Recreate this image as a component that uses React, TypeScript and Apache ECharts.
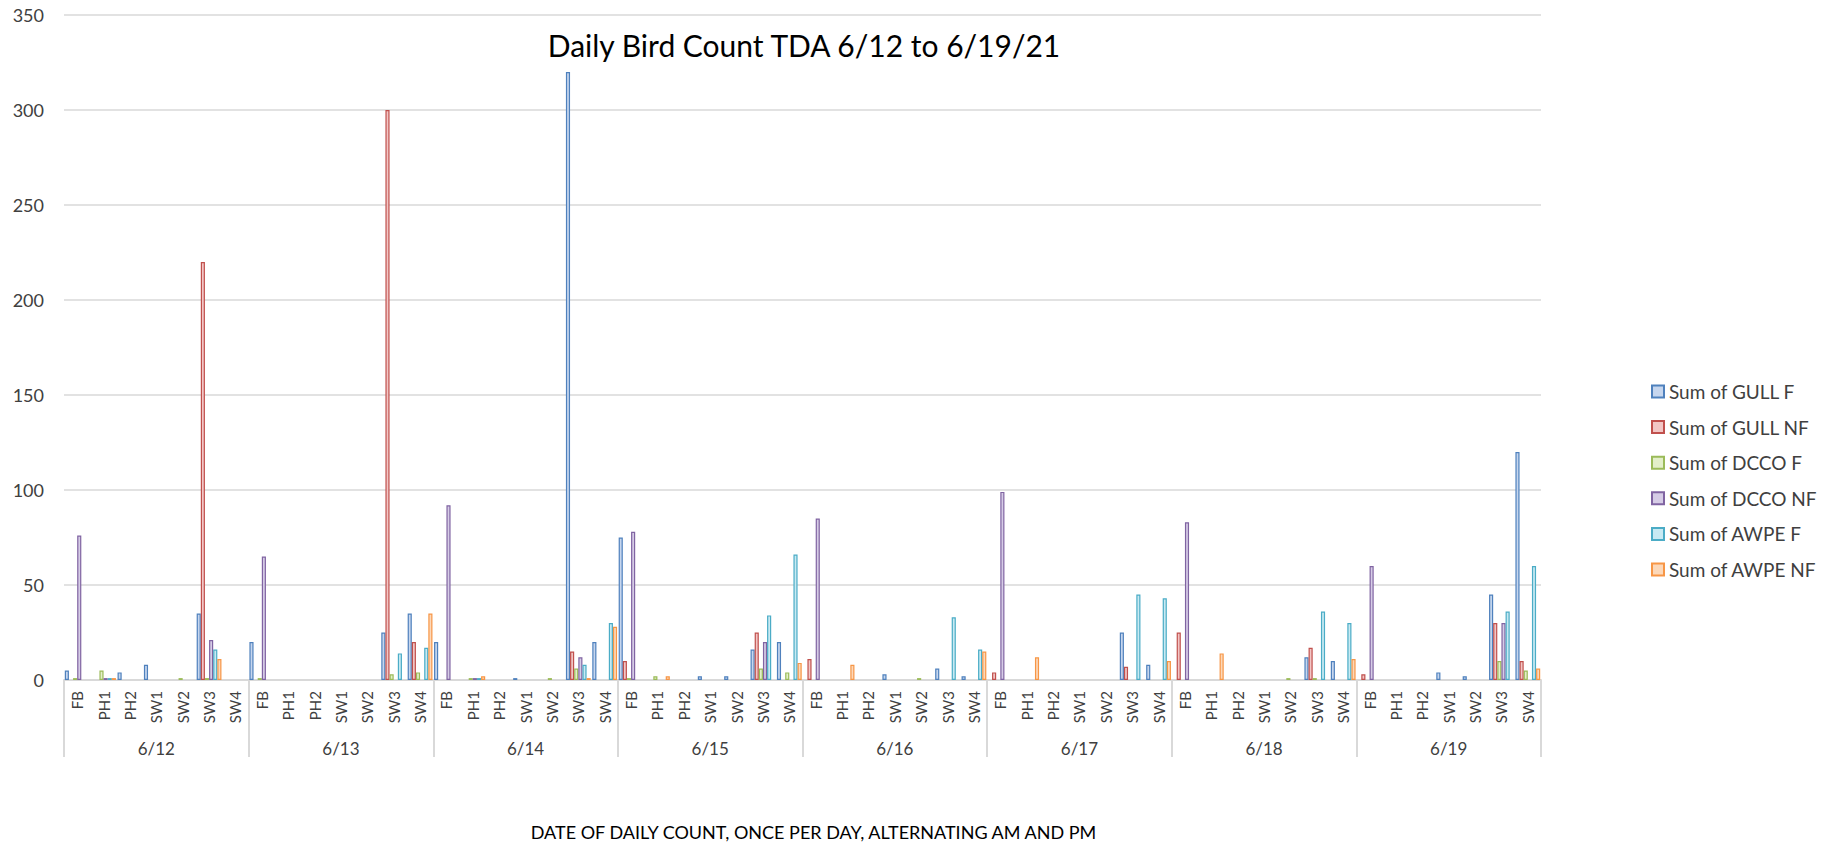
import React, { useEffect, useRef } from "react";
import * as echarts from "echarts";

const dates = ["6/12", "6/13", "6/14", "6/15", "6/16", "6/17", "6/18", "6/19"];
const sites = ["FB", "PH1", "PH2", "SW1", "SW2", "SW3", "SW4"];
const yTicks = { min: 0, max: 350, interval: 50 };

const titleText = "Daily Bird Count TDA 6/12 to 6/19/21";
const xAxisTitle = "DATE OF DAILY COUNT, ONCE PER DAY, ALTERNATING AM AND PM";

const seriesNames = [
  "Sum of GULL F",
  "Sum of GULL NF",
  "Sum of DCCO F",
  "Sum of DCCO NF",
  "Sum of AWPE F",
  "Sum of AWPE NF",
];

// each row: FB, PH1, PH2, SW1, SW2, SW3, SW4 for one date
const gullF = [
  5, null, 4, 8, null, 35, null,
  20, null, null, null, null, 25, 35,
  20, null, null, 1, null, 320, 20,
  75, null, null, 2, 2, 16, 20,
  null, null, null, 3, null, 6, 2,
  null, null, null, null, null, 25, 8,
  null, null, null, null, null, 12, 10,
  null, null, null, 4, 2, 45, 120,
];
const gullNF = [
  null, null, null, null, null, 220, null,
  null, null, null, null, null, 300, 20,
  null, null, null, null, null, 15, null,
  10, null, null, null, null, 25, null,
  11, null, null, null, null, null, null,
  4, null, null, null, null, 7, null,
  25, null, null, null, null, 17, null,
  3, null, null, null, null, 30, 10,
];
const dccoF = [
  1, 5, null, null, 1, 1, null,
  1, null, null, null, null, 3, 4,
  null, 1, null, null, 1, 6, null,
  1, 2, null, null, null, 6, 4,
  null, null, null, null, 1, null, null,
  null, null, null, null, null, null, null,
  null, null, null, null, 1, 1, null,
  null, null, null, null, null, 10, 5,
];
const dccoNF = [
  76, 1, null, null, null, 21, null,
  65, null, null, null, null, null, null,
  92, 1, null, null, null, 12, null,
  78, null, null, null, null, 20, null,
  85, null, null, null, null, null, null,
  99, null, null, null, null, null, null,
  83, null, null, null, null, null, null,
  60, null, null, null, null, 30, null,
];
const awpeF = [
  null, 1, null, null, null, 16, null,
  null, null, null, null, null, 14, 17,
  null, 1, null, null, null, 8, 30,
  null, null, null, null, null, 34, 66,
  null, null, null, null, null, 33, 16,
  null, null, null, null, null, 45, 43,
  null, null, null, null, null, 36, 30,
  null, null, null, null, null, 36, 60,
];
const awpeNF = [
  null, 1, null, null, null, 11, null,
  null, null, null, null, null, null, 35,
  null, 2, null, null, null, 1, 28,
  null, 2, null, null, null, null, 9,
  null, 8, null, null, null, null, 15,
  null, 12, null, null, null, null, 10,
  null, 14, null, null, null, null, 11,
  null, null, null, null, null, null, 6,
];

const seriesData = [gullF, gullNF, dccoF, dccoNF, awpeF, awpeNF];
const lineColors = ["#4F81BD", "#C0504D", "#9BBB59", "#8064A2", "#4BACC6", "#F79646"];
const fillColors = ["#c6d6ee", "#f2c6c5", "#e3efc9", "#d6cce6", "#c8eaf3", "#fcd8b9"];

const categories = dates.flatMap((d) => sites.map((s) => `${d}|${s}`));

const FONT = "Lato";

export default function App() {
  const ref = useRef<HTMLDivElement>(null);

  useEffect(() => {
    if (!ref.current) return;
    const chart = echarts.init(ref.current, undefined, { renderer: "svg" });
    const option: any = {
      animation: false,
      backgroundColor: "#ffffff",
      textStyle: { fontFamily: FONT },
      title: {
        text: titleText,
        left: 799,
        top: 25,
        textAlign: "center",
        textStyle: { fontSize: 30, fontWeight: "normal", color: "#000000", fontFamily: FONT },
      },
      grid: { left: 64, top: 15, width: 1477, height: 665 },
      legend: {
        orient: "vertical",
        left: 1646,
        top: 377,
        itemWidth: 12,
        itemHeight: 12,
        itemGap: 16.6,
        icon: "rect",
        data: seriesNames,
        textStyle: { fontSize: 19, color: "#404040", fontFamily: FONT, lineHeight: 19 },
      },
      xAxis: [
        {
          type: "category",
          data: categories,
          position: "bottom",
          axisLine: { lineStyle: { color: "#d9d9d9", width: 2 } },
          axisTick: { show: false },
          axisLabel: {
            interval: 0,
            rotate: 90,
            margin: 11,
            fontSize: 15,
            color: "#404040",
            fontFamily: FONT,
            formatter: (v: string) => v.split("|")[1],
          },
        },
        {
          type: "category",
          data: dates,
          position: "bottom",
          axisLine: { show: false },
          axisTick: {
            show: true,
            length: 77,
            interval: 0,
            lineStyle: { color: "#d9d9d9", width: 2 },
          },
          axisLabel: { interval: 0, margin: 60, fontSize: 17, color: "#404040", fontFamily: FONT },
          name: xAxisTitle,
          nameLocation: "middle",
          nameGap: 143,
          nameTextStyle: { fontSize: 18, color: "#000000", fontFamily: FONT, padding: [0, 0, 0, 22] },
        },
      ],
      yAxis: {
        type: "value",
        min: yTicks.min,
        max: yTicks.max,
        interval: yTicks.interval,
        axisLine: { show: false },
        axisTick: { show: false },
        axisLabel: { fontSize: 18, color: "#404040", margin: 20, fontFamily: FONT },
        splitLine: { lineStyle: { color: "#d9d9d9", width: 1.5 } },
      },
      series: seriesNames.map((name, i) => ({
        name,
        type: "bar",
        xAxisIndex: 0,
        data: seriesData[i],
        barGap: "0%",
        barCategoryGap: "6%",
        itemStyle: {
          color: fillColors[i],
          borderColor: lineColors[i],
          borderWidth: 1.2,
        },
      })),
    };
    chart.setOption(option);
    return () => chart.dispose();
  }, []);

  return (
    <div
      ref={ref}
      style={{ position: "fixed", left: 0, top: 0, width: 1830, height: 846, background: "#fff" }}
    />
  );
}
